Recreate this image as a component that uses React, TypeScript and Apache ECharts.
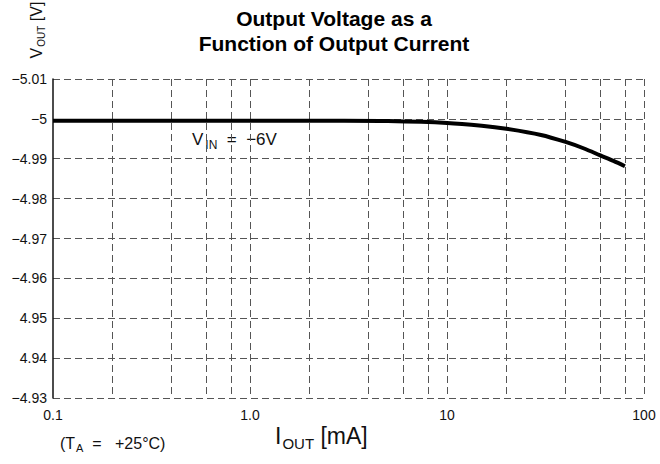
import React, { useEffect, useRef } from "react";
import * as echarts from "echarts";

// Output current [mA] and output voltage [V]
const currentMA = [0.1, 3, 5, 10, 15, 20, 30, 40, 50, 60, 70, 80];
const voltageV = [
  -4.99952, -4.99952, -4.99945, -4.99898, -4.99828, -4.99752, -4.99597,
  -4.99421, -4.99251, -4.99083, -4.98945, -4.98812,
];

// Axis definitions
const yMin = -5.01;
const yMax = -4.93;
const yStep = 0.01;
const yTickLabels = ["−5.01", "−5", "−4.99", "−4.98", "−4.97", "−4.96", "4.95", "4.94", "−4.93"];
const xMin = 0.1;
const xMax = 100;
const xTickLabels = ["0.1", "1.0", "10", "100"];
const xGridValues = [0.2, 0.4, 0.6, 0.8, 1, 2, 4, 6, 8, 10, 20, 40, 60, 80, 100];

const FONT = "'Liberation Sans', Arial, Helvetica, sans-serif";

export default function App() {
  const ref = useRef<HTMLDivElement>(null);

  useEffect(() => {
    if (!ref.current) return;
    const chart = echarts.init(ref.current, undefined, { renderer: "svg" });
    const gridStyle = { color: "#555", width: 1, type: [7, 4] as number[] };

    chart.setOption({
      animation: false,
      backgroundColor: "#fff",
      textStyle: { fontFamily: FONT },
      grid: { left: 53, right: 16, top: 79, bottom: 66, containLabel: false },
      xAxis: {
        type: "log",
        logBase: 10,
        min: xMin,
        max: xMax,
        axisLine: { show: false, onZero: false },
        axisTick: { show: false },
        splitLine: { show: false },
        minorSplitLine: { show: false },
        axisLabel: {
          color: "#111",
          fontSize: 14,
          fontFamily: FONT,
          margin: 10,
          formatter: (v: number) => {
            const i = Math.round(Math.log10(v) - Math.log10(xMin));
            return xTickLabels[i] ?? "";
          },
        },
      },
      yAxis: {
        type: "value",
        inverse: true,
        min: yMin,
        max: yMax,
        interval: yStep,
        axisLine: { show: true, lineStyle: { color: "#111", width: 1.5 } },
        axisTick: { show: false },
        splitLine: { show: true, lineStyle: gridStyle },
        axisLabel: {
          color: "#111",
          fontSize: 14,
          fontFamily: FONT,
          margin: 6,
          formatter: (v: number) => {
            const i = Math.round((v - yMin) / yStep);
            return yTickLabels[i] ?? "";
          },
        },
      },
      series: [
        {
          type: "line",
          data: [],
          z: 1,
          silent: true,
          markLine: {
            silent: true,
            symbol: ["none", "none"],
            label: { show: false },
            lineStyle: gridStyle,
            data: xGridValues.map((v) => ({ xAxis: v })),
          },
        },
        {
          type: "line",
          z: 5,
          smooth: 0.3,
          showSymbol: false,
          lineStyle: { color: "#000", width: 4 },
          data: currentMA.map((c, i) => [c, voltageV[i]]),
        },
      ],
      graphic: [
        {
          type: "text",
          x: 334,
          y: 6,
          style: {
            text: "Output Voltage as a\nFunction of Output Current",
            fontFamily: FONT,
            fontSize: 21,
            fontWeight: "bold",
            lineHeight: 25,
            fill: "#000",
            align: "center",
          },
        },
        {
          type: "text",
          x: 36,
          y: 30,
          rotation: Math.PI / 2,
          style: {
            text: "{m|V}{s|OUT}{m| [V]}",
            align: "center",
            verticalAlign: "middle",
            rich: {
              m: { fontFamily: FONT, fontSize: 16, fill: "#111", verticalAlign: "bottom" },
              s: { fontFamily: FONT, fontSize: 10, fill: "#111", verticalAlign: "bottom", padding: [0, 0, -2, 1] },
            },
          },
        },
        {
          type: "text",
          x: 192,
          y: 139,
          style: {
            text: "{m|V}{s|IN}{m|  =  −6V}",
            verticalAlign: "middle",
            rich: {
              m: { fontFamily: FONT, fontSize: 17, fill: "#111", verticalAlign: "bottom" },
              s: { fontFamily: FONT, fontSize: 12, fill: "#111", verticalAlign: "bottom", padding: [0, 0, -3, 2] },
            },
          },
        },
        {
          type: "text",
          x: 60,
          y: 443,
          style: {
            text: "{m|(T}{s|A}{m|  =   +25°C)}",
            verticalAlign: "middle",
            rich: {
              m: { fontFamily: FONT, fontSize: 16, fill: "#111", verticalAlign: "bottom" },
              s: { fontFamily: FONT, fontSize: 11, fill: "#111", verticalAlign: "bottom", padding: [0, 0, -2, 1] },
            },
          },
        },
        {
          type: "text",
          x: 275,
          y: 436,
          style: {
            text: "{m|I}{s|OUT}{m| [mA]}",
            verticalAlign: "middle",
            rich: {
              m: { fontFamily: FONT, fontSize: 23, fill: "#111", verticalAlign: "bottom" },
              s: { fontFamily: FONT, fontSize: 15, fill: "#111", verticalAlign: "bottom", padding: [0, 0, -3, 1] },
            },
          },
        },
      ],
    });

    return () => chart.dispose();
  }, []);

  return (
    <div
      ref={ref}
      style={{ position: "fixed", left: 0, top: 0, width: 660, height: 464, background: "#fff" }}
    />
  );
}
